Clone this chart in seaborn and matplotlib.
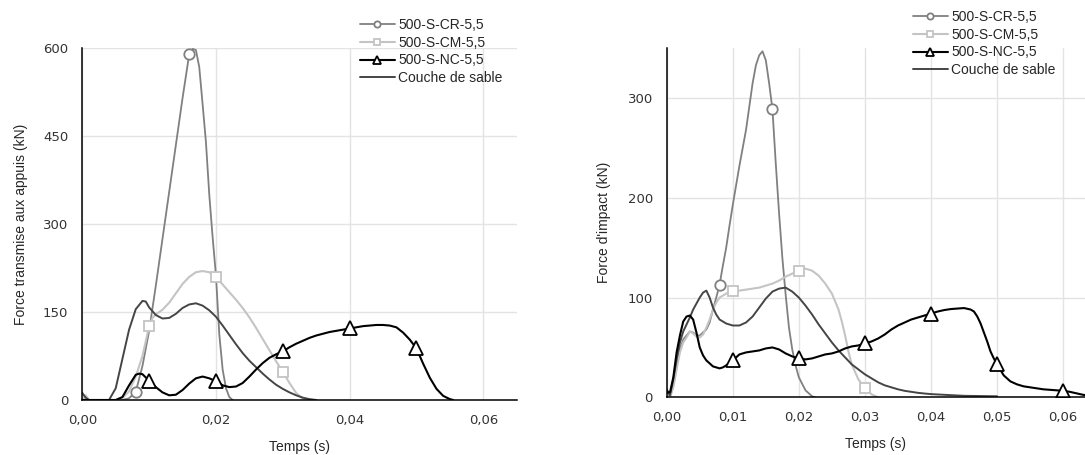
import numpy as np
import pandas as pd
import matplotlib
matplotlib.use("Agg")
import matplotlib.pyplot as plt
from matplotlib.ticker import MultipleLocator, FuncFormatter
import seaborn as sns

# ---------------- data (left panel: Force transmise aux appuis) ----------------
CR_L_T = [0, 0.0005, 0.001, 0.006, 0.007, 0.008, 0.009, 0.010, 0.011, 0.012, 0.013, 0.014, 0.015,
          0.016, 0.0165, 0.017, 0.0175, 0.018, 0.0185, 0.019, 0.0195, 0.020, 0.0205, 0.021, 0.0215,
          0.022, 0.0225]
CR_L_V = [0, 0, 0, 0, 3, 14, 58, 118, 195, 275, 355, 435, 515,
          590, 599, 597, 568, 505, 440, 350, 278, 212, 112, 52, 20,
          5, 0]

CM_L_T = [0, 0.0005, 0.001, 0.005, 0.006, 0.007, 0.008, 0.009, 0.010, 0.0105, 0.011, 0.012, 0.013,
          0.014, 0.015, 0.016, 0.017, 0.018, 0.019, 0.020, 0.021, 0.022, 0.023, 0.024, 0.025, 0.026,
          0.027, 0.028, 0.029, 0.030, 0.031, 0.032, 0.033, 0.0335]
CM_L_V = [0, 8, 0, 0, 3, 15, 40, 75, 126, 140, 146, 154, 166,
          182, 198, 210, 218, 220, 218, 210, 197, 184, 171, 157, 141, 123,
          104, 85, 66, 48, 29, 12, 2, 0]

NC_L_T = [0, 0.005, 0.006, 0.007, 0.008, 0.0085, 0.009, 0.010, 0.011, 0.012, 0.013, 0.014, 0.015,
          0.016, 0.017, 0.018, 0.019, 0.020, 0.021, 0.022, 0.023, 0.024, 0.025, 0.026, 0.027, 0.028,
          0.029, 0.030, 0.031, 0.032, 0.033, 0.034, 0.035, 0.036, 0.037, 0.038, 0.039, 0.040, 0.041,
          0.042, 0.043, 0.044, 0.045, 0.046, 0.047, 0.048, 0.049, 0.050, 0.051, 0.052, 0.053, 0.054,
          0.055, 0.0555]
NC_L_V = [0, 0, 5, 25, 43, 45, 44, 33, 22, 13, 8, 9, 17,
          28, 37, 40, 37, 32, 25, 22, 23, 29, 40, 52, 63, 72,
          78, 83, 90, 96, 101, 106, 110, 113, 116, 118, 120, 122, 124,
          126, 127, 128, 128, 127, 124, 115, 103, 88, 62, 38, 19, 7,
          1.5, 0]

SA_L_T = [0, 0.0005, 0.001, 0.004, 0.005, 0.006, 0.007, 0.008, 0.009, 0.0095, 0.010, 0.011, 0.012,
          0.013, 0.014, 0.015, 0.016, 0.017, 0.018, 0.019, 0.020, 0.021, 0.022, 0.023, 0.024, 0.025,
          0.026, 0.027, 0.028, 0.029, 0.030, 0.031, 0.032, 0.033, 0.034, 0.035]
SA_L_V = [12, 4, 0, 0, 20, 70, 120, 155, 169, 168, 158, 145, 139,
          140, 147, 157, 163, 165, 161, 153, 142, 127, 111, 95, 80, 67,
          56, 45, 35, 26, 19, 13, 8, 4, 1.5, 0]

# ---------------- data (right panel: Force d'impact) ----------------
CR_R_T = [0, 0.0005, 0.001, 0.0015, 0.002, 0.0025, 0.003, 0.0035, 0.004, 0.0045, 0.005, 0.0055,
          0.006, 0.0065, 0.007, 0.0075, 0.008, 0.0085, 0.009, 0.0095, 0.010, 0.011, 0.012, 0.013,
          0.0135, 0.014, 0.0145, 0.015, 0.0155, 0.016, 0.0165, 0.017, 0.0175, 0.018, 0.0185, 0.019,
          0.0195, 0.020, 0.021, 0.022, 0.0225]
CR_R_V = [8, 0, 12, 30, 48, 58, 62, 66, 65, 62, 62, 65,
          68, 75, 88, 100, 113, 132, 150, 172, 193, 232, 268, 315,
          333, 343, 347, 338, 315, 289, 235, 185, 140, 103, 70, 48,
          32, 20, 7, 1, 0]

CM_R_T = [0, 0.0005, 0.001, 0.0015, 0.002, 0.0025, 0.003, 0.0035, 0.004, 0.0045, 0.005, 0.0055,
          0.006, 0.0065, 0.007, 0.0075, 0.008, 0.009, 0.010, 0.011, 0.012, 0.013, 0.014, 0.015,
          0.016, 0.017, 0.018, 0.019, 0.020, 0.021, 0.022, 0.023, 0.024, 0.025, 0.026, 0.0265,
          0.027, 0.0275, 0.028, 0.029, 0.030, 0.031, 0.032]
CM_R_V = [0, 0, 10, 28, 45, 55, 60, 66, 64, 61, 60, 63,
          70, 78, 88, 95, 100, 104, 107, 107, 108, 109, 110, 112,
          114, 117, 121, 124, 127, 129, 127, 122, 114, 104, 88, 76,
          62, 46, 33, 18, 9, 3, 0]

NC_R_T = [0, 0.0005, 0.001, 0.0015, 0.002, 0.0025, 0.003, 0.0035, 0.004, 0.0045, 0.005, 0.0055,
          0.006, 0.007, 0.008, 0.0085, 0.009, 0.010, 0.011, 0.012, 0.013, 0.014, 0.015, 0.016,
          0.017, 0.018, 0.019, 0.020, 0.021, 0.022, 0.023, 0.024, 0.025, 0.026, 0.027, 0.028,
          0.029, 0.030, 0.031, 0.032, 0.033, 0.034, 0.035, 0.036, 0.037, 0.038, 0.039, 0.040,
          0.041, 0.042, 0.043, 0.044, 0.045, 0.046, 0.0465, 0.047, 0.0475, 0.048, 0.0485, 0.049,
          0.0495, 0.050, 0.051, 0.052, 0.053, 0.054, 0.055, 0.056, 0.057, 0.058, 0.059, 0.060,
          0.061, 0.062, 0.063, 0.0635]
NC_R_V = [5, 5, 20, 45, 62, 76, 81, 82, 78, 65, 50, 42,
          37, 31, 29, 30, 32, 37, 43, 45, 46, 47, 49, 50,
          48, 44, 41, 39, 38, 39, 41, 43, 44, 46, 49, 51,
          52, 54, 56, 59, 63, 68, 72, 75, 78, 80, 82, 84,
          86, 87.5, 88.5, 89, 89.5, 88, 86, 81, 74, 65, 56, 46,
          39, 33, 22, 16, 13, 11, 10, 9, 8, 7.5, 7, 6.5,
          5.5, 4, 2.5, 2]

SA_R_T = [0, 0.0005, 0.001, 0.0015, 0.002, 0.0025, 0.003, 0.0035, 0.004, 0.0045, 0.005, 0.0055,
          0.006, 0.0065, 0.007, 0.0075, 0.008, 0.009, 0.010, 0.011, 0.012, 0.013, 0.014, 0.015,
          0.016, 0.017, 0.018, 0.019, 0.020, 0.021, 0.022, 0.023, 0.024, 0.025, 0.026, 0.027,
          0.028, 0.029, 0.030, 0.031, 0.032, 0.033, 0.034, 0.035, 0.036, 0.037, 0.038, 0.039,
          0.040, 0.042, 0.045, 0.050]
SA_R_V = [8, 2, 18, 38, 55, 66, 73, 80, 88, 94, 100, 105,
          107, 100, 90, 83, 78, 74, 72, 72, 75, 81, 90, 99,
          106, 109, 110, 106, 100, 92, 83, 73, 64, 55, 47, 40,
          33, 28, 23, 19, 15, 12, 10, 8, 6.5, 5.5, 4.5, 3.8,
          3.2, 2.5, 1.5, 1]

LABELS = ["500-S-CR-5,5", "500-S-CM-5,5", "500-S-NC-5,5", "Couche de sable"]
MARKS_CR = [0.008, 0.016]
MARKS_CM = [0.01, 0.02, 0.03]
MARKS_NC_L = [0.01, 0.02, 0.03, 0.04, 0.05]
MARKS_NC_R = [0.01, 0.02, 0.03, 0.04, 0.05, 0.06]

# ---------------- style ----------------
sns.set_style("white")
plt.rcParams["font.family"] = ["Liberation Sans", "DejaVu Sans"]

C_CR = "#808080"
C_CM = "#c4c4c4"
C_NC = "#000000"
C_SA = "#454545"

fig = plt.figure(figsize=(10.85, 4.55), dpi=100)
axL = fig.add_axes([82.3 / 1085, 55 / 455, 434.4 / 1085, 351.7 / 455])
axR = fig.add_axes([666.7 / 1085, 57.7 / 455, 418.3 / 1085, 349 / 455])


def idx(times, marks):
    t = np.asarray(times)
    return [int(np.argmin(np.abs(t - m))) for m in marks]


def draw(ax, series):
    for (t, v, label, color, marker, ms, lw, marks) in series:
        df = pd.DataFrame({"t": t, "v": v})
        kw = dict(color=color, lw=lw, label=label, ax=ax, estimator=None, sort=False)
        if marker:
            kw.update(marker=marker, markersize=ms, markerfacecolor="white",
                      markeredgecolor=color, markeredgewidth=1.3,
                      markevery=idx(t, marks))
        sns.lineplot(data=df, x="t", y="v", **kw)


draw(axL, [
    (CR_L_T, CR_L_V, LABELS[0], C_CR, "o", 7.5, 1.3, MARKS_CR),
    (CM_L_T, CM_L_V, LABELS[1], C_CM, "s", 7.0, 1.5, MARKS_CM),
    (SA_L_T, SA_L_V, LABELS[3], C_SA, None, 0, 1.4, None),
    (NC_L_T, NC_L_V, LABELS[2], C_NC, "^", 9.5, 1.5, MARKS_NC_L),
])
draw(axR, [
    (CR_R_T, CR_R_V, LABELS[0], C_CR, "o", 7.5, 1.3, MARKS_CR),
    (CM_R_T, CM_R_V, LABELS[1], C_CM, "s", 7.0, 1.5, MARKS_CM),
    (SA_R_T, SA_R_V, LABELS[3], C_SA, None, 0, 1.4, None),
    (NC_R_T, NC_R_V, LABELS[2], C_NC, "^", 9.5, 1.5, MARKS_NC_R),
])

comma = FuncFormatter(lambda v, p: f"{v:.2f}".replace(".", ","))
intfmt = FuncFormatter(lambda v, p: f"{v:.0f}")

for ax, xmax, xmaj, xmin, ymax, ymaj, ymin, ylab, ylx in [
    (axL, 0.065, 0.02, 0.01, 600, 150, 75, "Force transmise aux appuis (kN)", -0.125),
    (axR, 0.0633, 0.01, 0.005, 350, 100, 50, "Force d'impact (kN)", -0.134),
]:
    ax.set_xlim(0, xmax)
    ax.set_ylim(0, ymax)
    ax.xaxis.set_major_locator(MultipleLocator(xmaj))
    ax.xaxis.set_minor_locator(MultipleLocator(xmin))
    ax.yaxis.set_major_locator(MultipleLocator(ymaj))
    ax.yaxis.set_minor_locator(MultipleLocator(ymin))
    ax.xaxis.set_major_formatter(comma)
    ax.yaxis.set_major_formatter(intfmt)
    ax.grid(True, which="major", color="#e3e3e3", lw=1.0)
    ax.set_axisbelow(True)
    for s in ["top", "right"]:
        ax.spines[s].set_visible(False)
    for s in ["left", "bottom"]:
        ax.spines[s].set_color("black")
        ax.spines[s].set_linewidth(1.1)
    ax.tick_params(which="both", direction="out", length=5, width=1, color="black",
                   labelsize=9.5, labelcolor="#333333", pad=5)
    for lab in ax.get_xticklabels() + ax.get_yticklabels():
        lab.set_family(["DejaVu Sans"])
    ax.set_xlabel("Temps (s)", fontsize=10)
    ax.set_ylabel(ylab, fontsize=10)
    ax.xaxis.set_label_coords(0.5, -0.115)
    ax.yaxis.set_label_coords(ylx, 0.5)
    if ax.get_legend() is not None:
        ax.get_legend().remove()

for ax, x0, y0 in [(axL, 360, 18), (axR, 913, 10)]:
    handles, labels = ax.get_legend_handles_labels()
    order = [labels.index(l) for l in LABELS]
    fig.legend([handles[i] for i in order], [labels[i] for i in order],
               loc="upper left", bbox_to_anchor=(x0 / 1085, 1 - y0 / 455),
               frameon=False, fontsize=10, handlelength=2.5, handletextpad=0.25,
               labelspacing=0.27, borderpad=0, borderaxespad=0, markerscale=0.6)

fig.savefig("out.png", dpi=100)
